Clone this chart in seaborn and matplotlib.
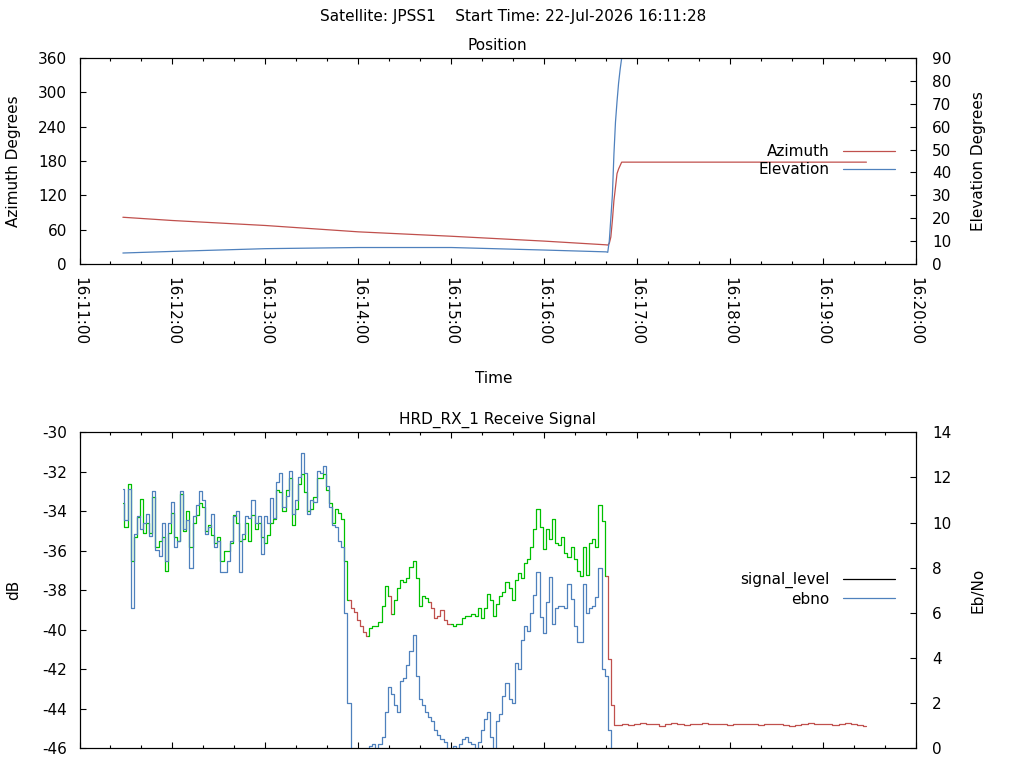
import matplotlib
matplotlib.use("Agg")
import numpy as np
import pandas as pd
import matplotlib.pyplot as plt
import matplotlib.dates as mdates
from matplotlib.lines import Line2D
import seaborn as sns

# ---------------- data ----------------
satellite = "JPSS1"
start_time = "22-Jul-2026 16:11:28"
day = "2026-07-22"

pos_times = ["16:11:28", "16:12:00", "16:13:00", "16:14:00", "16:15:00", "16:16:00",
             "16:16:40", "16:16:41", "16:16:42", "16:16:43", "16:16:44", "16:16:45",
             "16:16:46", "16:16:47", "16:16:48", "16:16:49", "16:16:50", "16:16:51",
             "16:17:30", "16:18:30", "16:19:28"]
azimuth = [81.7, 76.0, 67.3, 56.2, 48.5, 40.0,
           33.5, 33.0, 36.0, 47.0, 76.0, 111.0,
           134.0, 158.0, 166.0, 172.0, 178.0, 178.0,
           178.0, 178.0, 178.0]
elevation = [4.8, 5.5, 6.7, 7.2, 7.2, 6.1,
             5.3, 5.1, 10.0, 20.0, 30.0, 48.0,
             62.0, 71.0, 79.0, 85.0, 90.0, 95.0]

# receive signal: 2 s samples during the pass, 4 s samples afterwards
active_start, active_step_s = "16:11:28", 2
tail_start, tail_step_s = "16:16:52", 4

signal_active = [
    -33.6, -34.8, -32.6, -36.5, -35.3, -34.3, -33.4, -35.1, -34.6, -35.1,
    -33.3, -35.8, -35.5, -35.3, -37.0, -35.1, -34.1, -35.3, -35.5, -33.1,
    -35.0, -34.0, -35.8, -34.6, -34.2, -33.6, -33.8, -35.0, -34.7, -35.2,
    -35.6, -35.3, -36.5, -36.0, -36.0, -35.6, -34.2, -34.6,
    -35.5, -35.4, -34.6, -35.5, -34.2, -34.9, -34.6, -35.3, -35.6, -35.2,
    -34.6, -34.4, -32.9, -33.0, -34.0, -32.9, -32.3, -34.7, -33.9, -32.6,
    -32.1, -33.0, -34.0, -33.9, -33.3, -32.3, -32.3, -32.1, -32.9, -33.6,
    -34.6, -33.9, -34.1, -34.4, -36.5, -38.5,
    -38.9, -39.1, -39.5, -39.8, -40.1, -40.3, -39.9, -39.8, -39.8, -39.6,
    -38.8, -37.8, -38.3, -39.2, -38.5, -37.9, -37.5, -37.6, -37.4, -36.8,
    -36.5, -37.4, -38.8, -38.3, -38.4, -38.6, -38.9, -39.4, -39.3, -39.0,
    -39.5, -39.7, -39.7, -39.8, -39.7, -39.7, -39.4, -39.3, -39.3, -39.2,
    -39.3, -38.9, -39.4, -38.9, -38.2, -38.5, -39.3, -38.7, -38.3, -38.1,
    -37.6, -37.9, -38.5, -37.5, -37.1, -37.4, -36.6, -36.4, -35.8, -34.9,
    -33.9, -34.8, -35.9, -34.9, -35.4, -34.4, -35.6, -35.7, -35.3, -36.1,
    -36.3, -35.8, -36.4, -37.0, -37.3, -35.8, -37.2, -35.6, -35.4, -35.8,
    -33.7, -34.5, -37.3, -41.5, -43.8, -44.8, -44.8,
]
signal_tail = [
    -44.75, -44.8, -44.75, -44.7, -44.75, -44.75, -44.85, -44.75, -44.7, -44.75,
    -44.8, -44.75, -44.75, -44.7, -44.75, -44.75, -44.75, -44.8, -44.75, -44.75,
    -44.75, -44.75, -44.8, -44.75, -44.75, -44.75, -44.8, -44.85, -44.8, -44.75,
    -44.7, -44.75, -44.75, -44.75, -44.8, -44.75, -44.7, -44.75, -44.8, -44.85,
]
ebno_active = [
    11.5, 10.1, 11.5, 6.2, 9.5, 10.3, 9.7, 10.0, 10.4, 9.4,
    11.4, 8.8, 8.5, 10.0, 8.3, 10.0, 10.9, 8.9, 9.2, 11.4,
    9.7, 10.1, 8.0, 10.3, 10.8, 11.4, 11.0, 9.5, 9.8, 10.4,
    8.9, 9.2, 7.8, 7.8, 8.3, 9.2, 10.3, 10.5,
    7.8, 9.5, 10.3, 10.2, 11.0, 10.0, 10.3, 8.6, 10.3, 10.0,
    11.1, 10.2, 11.8, 12.2, 10.7, 11.2, 12.3, 10.4, 11.0, 12.0,
    13.1, 12.2, 10.4, 11.0, 10.9, 12.3, 12.2, 12.5, 11.6, 10.7,
    9.9, 9.8, 9.2, 8.9, 6.0, 2.0,
    -0.5, -1.0, -1.0, -1.0, -1.0, -0.5, 0.1, 0.2, -0.5, 0.2,
    0.5, 1.6, 2.7, 2.4, 1.9, 1.6, 3.0, 3.1, 3.7, 4.3,
    5.0, 3.2, 2.2, 1.9, 1.6, 1.4, 1.2, 0.8, 0.6, 0.4,
    0.3, -0.2, -0.3, 0.1, -0.3, 0.2, 0.4, 0.5, 0.3, 0.2,
    -0.3, 0.3, 0.8, 1.3, 1.6, 0.5, -0.3, 1.2, 1.5, 2.3,
    2.9, 2.2, 2.0, 3.8, 3.5, 4.8, 5.4, 5.2, 6.0, 6.8,
    7.8, 5.8, 5.1, 6.5, 7.6, 5.5, 6.2, 6.3, 6.3, 6.2,
    7.3, 6.6, 5.4, 4.7, 4.7, 7.3, 6.0, 6.2, 6.3, 6.7,
    8.0, 3.5, 3.2, 0.8, -2.0,
]

# periods where the receiver was not locked (signal drawn red instead of green)
unlocked_spans = [("16:13:56", "16:14:06"), ("16:14:22", "16:14:22"),
                  ("16:14:48", "16:15:00"), ("16:16:42", "16:19:28")]

x_start, x_end = "16:11:00", "16:20:00"

RED = "#C0504D"
BLUE = "#4F81BD"
GREEN = "#00C000"

# ---------------- frames ----------------
def ts(s):
    return pd.Timestamp(f"{day} {s}")

pos_df = pd.DataFrame({"time": [ts(s) for s in pos_times], "azimuth": azimuth})
el_df = pd.DataFrame({"time": [ts(s) for s in pos_times[:len(elevation)]],
                      "elevation": elevation})

t_active = pd.date_range(ts(active_start), periods=len(signal_active),
                         freq=f"{active_step_s}s")
t_tail = pd.date_range(ts(tail_start), periods=len(signal_tail),
                       freq=f"{tail_step_s}s")
sig_df = pd.DataFrame({"time": t_active.append(t_tail),
                       "signal_level": signal_active + signal_tail})
eb_df = pd.DataFrame({"time": t_active[:len(ebno_active)], "ebno": ebno_active})

unlocked = np.zeros(len(sig_df), dtype=bool)
for a, b in unlocked_spans:
    unlocked |= ((sig_df["time"] >= ts(a)) & (sig_df["time"] <= ts(b))).to_numpy()

# ---------------- style ----------------
sns.set_theme(style="ticks")
plt.rcParams["font.family"] = ["DejaVu Sans"]
plt.rcParams.update({
    "axes.unicode_minus": False,
    "axes.edgecolor": "black",
    "axes.linewidth": 0.8,
    "text.color": "black",
    "axes.labelcolor": "black",
    "xtick.color": "black",
    "ytick.color": "black",
    "xtick.direction": "in",
    "ytick.direction": "in",
    "font.size": 11,
})

W, H = 1024, 768
fig = plt.figure(figsize=(W / 100, H / 100), dpi=100)

def axrect(l, t, r, b):
    return [l / W, 1 - b / H, (r - l) / W, (b - t) / H]

ax1 = fig.add_axes(axrect(79.5, 58, 916, 264))
ax3 = fig.add_axes(axrect(79.5, 432.3, 916, 748.3))
ax2 = ax1.twinx()
ax4 = ax3.twinx()

LW = 0.9

# top: position
sns.lineplot(data=pos_df, x="time", y="azimuth", ax=ax1, color=RED, lw=LW, estimator=None)
sns.lineplot(data=el_df, x="time", y="elevation", ax=ax2, color=BLUE, lw=LW, estimator=None)

# bottom: receive signal, coloured by lock state
n = len(sig_df)
start = 0
while start < n:
    end = start
    while end + 1 < n and unlocked[end + 1] == unlocked[start]:
        end += 1
    sub = sig_df.iloc[max(start - 1, 0):end + 1]
    sns.lineplot(data=sub, x="time", y="signal_level", ax=ax3,
                 color=RED if unlocked[start] else GREEN, lw=LW,
                 estimator=None, drawstyle="steps-mid")
    start = end + 1

sns.lineplot(data=eb_df, x="time", y="ebno", ax=ax4, color=BLUE, lw=LW,
             estimator=None, drawstyle="steps-mid")

# axes config
t0, t1 = ts(x_start), ts(x_end)
for ax in (ax1, ax3):
    ax.set_xlim(t0, t1)
    ax.xaxis.set_major_locator(mdates.MinuteLocator())
    ax.xaxis.set_minor_locator(mdates.SecondLocator(bysecond=[20, 40]))
    ax.xaxis.set_major_formatter(mdates.DateFormatter("%H:%M:%S"))
    ax.tick_params(axis="x", which="both", direction="in", top=True, bottom=True)
    ax.tick_params(axis="x", which="major", length=4.5, width=0.8, pad=9.4, labelsize=11)
    ax.tick_params(axis="x", which="minor", length=2.4, width=0.8)
    ax.tick_params(axis="y", which="major", direction="in", left=True, right=False,
                   length=4.5, width=0.8, pad=9, labelsize=11)
    ax.set_xlabel("")
    ax.set_ylabel("")
    for sp in ax.spines.values():
        sp.set_visible(True)
        sp.set_color("black")
        sp.set_linewidth(0.8)

for ax in (ax2, ax4):
    ax.tick_params(axis="y", which="major", direction="in", right=True, left=False,
                   length=4.5, width=0.8, pad=11.5, labelsize=11)
    ax.set_ylabel("")
    ax.set_xlabel("")

ax1.set_ylim(0, 360)
ax1.set_yticks(np.arange(0, 361, 60))
ax2.set_ylim(0, 90)
ax2.set_yticks(np.arange(0, 91, 10))
ax3.set_ylim(-46, -30)
ax3.set_yticks(np.arange(-46, -29, 2))
ax4.set_ylim(0, 14)
ax4.set_yticks(np.arange(0, 15, 2))

for lab in ax1.get_xticklabels():
    lab.set_rotation(270)
    lab.set_ha("center")
    lab.set_va("top")
ax3.tick_params(axis="x", labelbottom=False)

# legends
leg_kw = dict(loc="center right", frameon=False, markerfirst=False, fontsize=11,
              handlelength=3.4, handletextpad=0.9, labelspacing=0.22,
              borderpad=0, borderaxespad=0)
h1 = [Line2D([0], [0], color=RED, lw=LW), Line2D([0], [0], color=BLUE, lw=LW)]
ax2.legend(h1, ["Azimuth", "Elevation"], bbox_to_anchor=(0.975, 0.502), **leg_kw)
h2 = [Line2D([0], [0], color="black", lw=LW), Line2D([0], [0], color=BLUE, lw=LW)]
ax4.legend(h2, ["signal_level", "ebno"], bbox_to_anchor=(0.975, 0.5025), **leg_kw)

# texts
def ftext(x, y, s, **kw):
    fig.text(x / W, 1 - y / H, s, ha="center", va="center", fontsize=11, **kw)

ftext(513, 17, f"Satellite: {satellite}    Start Time: {start_time}")
ftext(497, 46, "Position")
ftext(494, 379, "Time")
ftext(497, 420, "HRD_RX_1 Receive Signal")
ftext(14, 161, "Azimuth Degrees", rotation=90)
ftext(978, 161, "Elevation Degrees", rotation=90)
ftext(14, 590, "dB", rotation=90)
ftext(978, 590, "Eb/No", rotation=90)

fig.savefig("out.png", dpi=100)
